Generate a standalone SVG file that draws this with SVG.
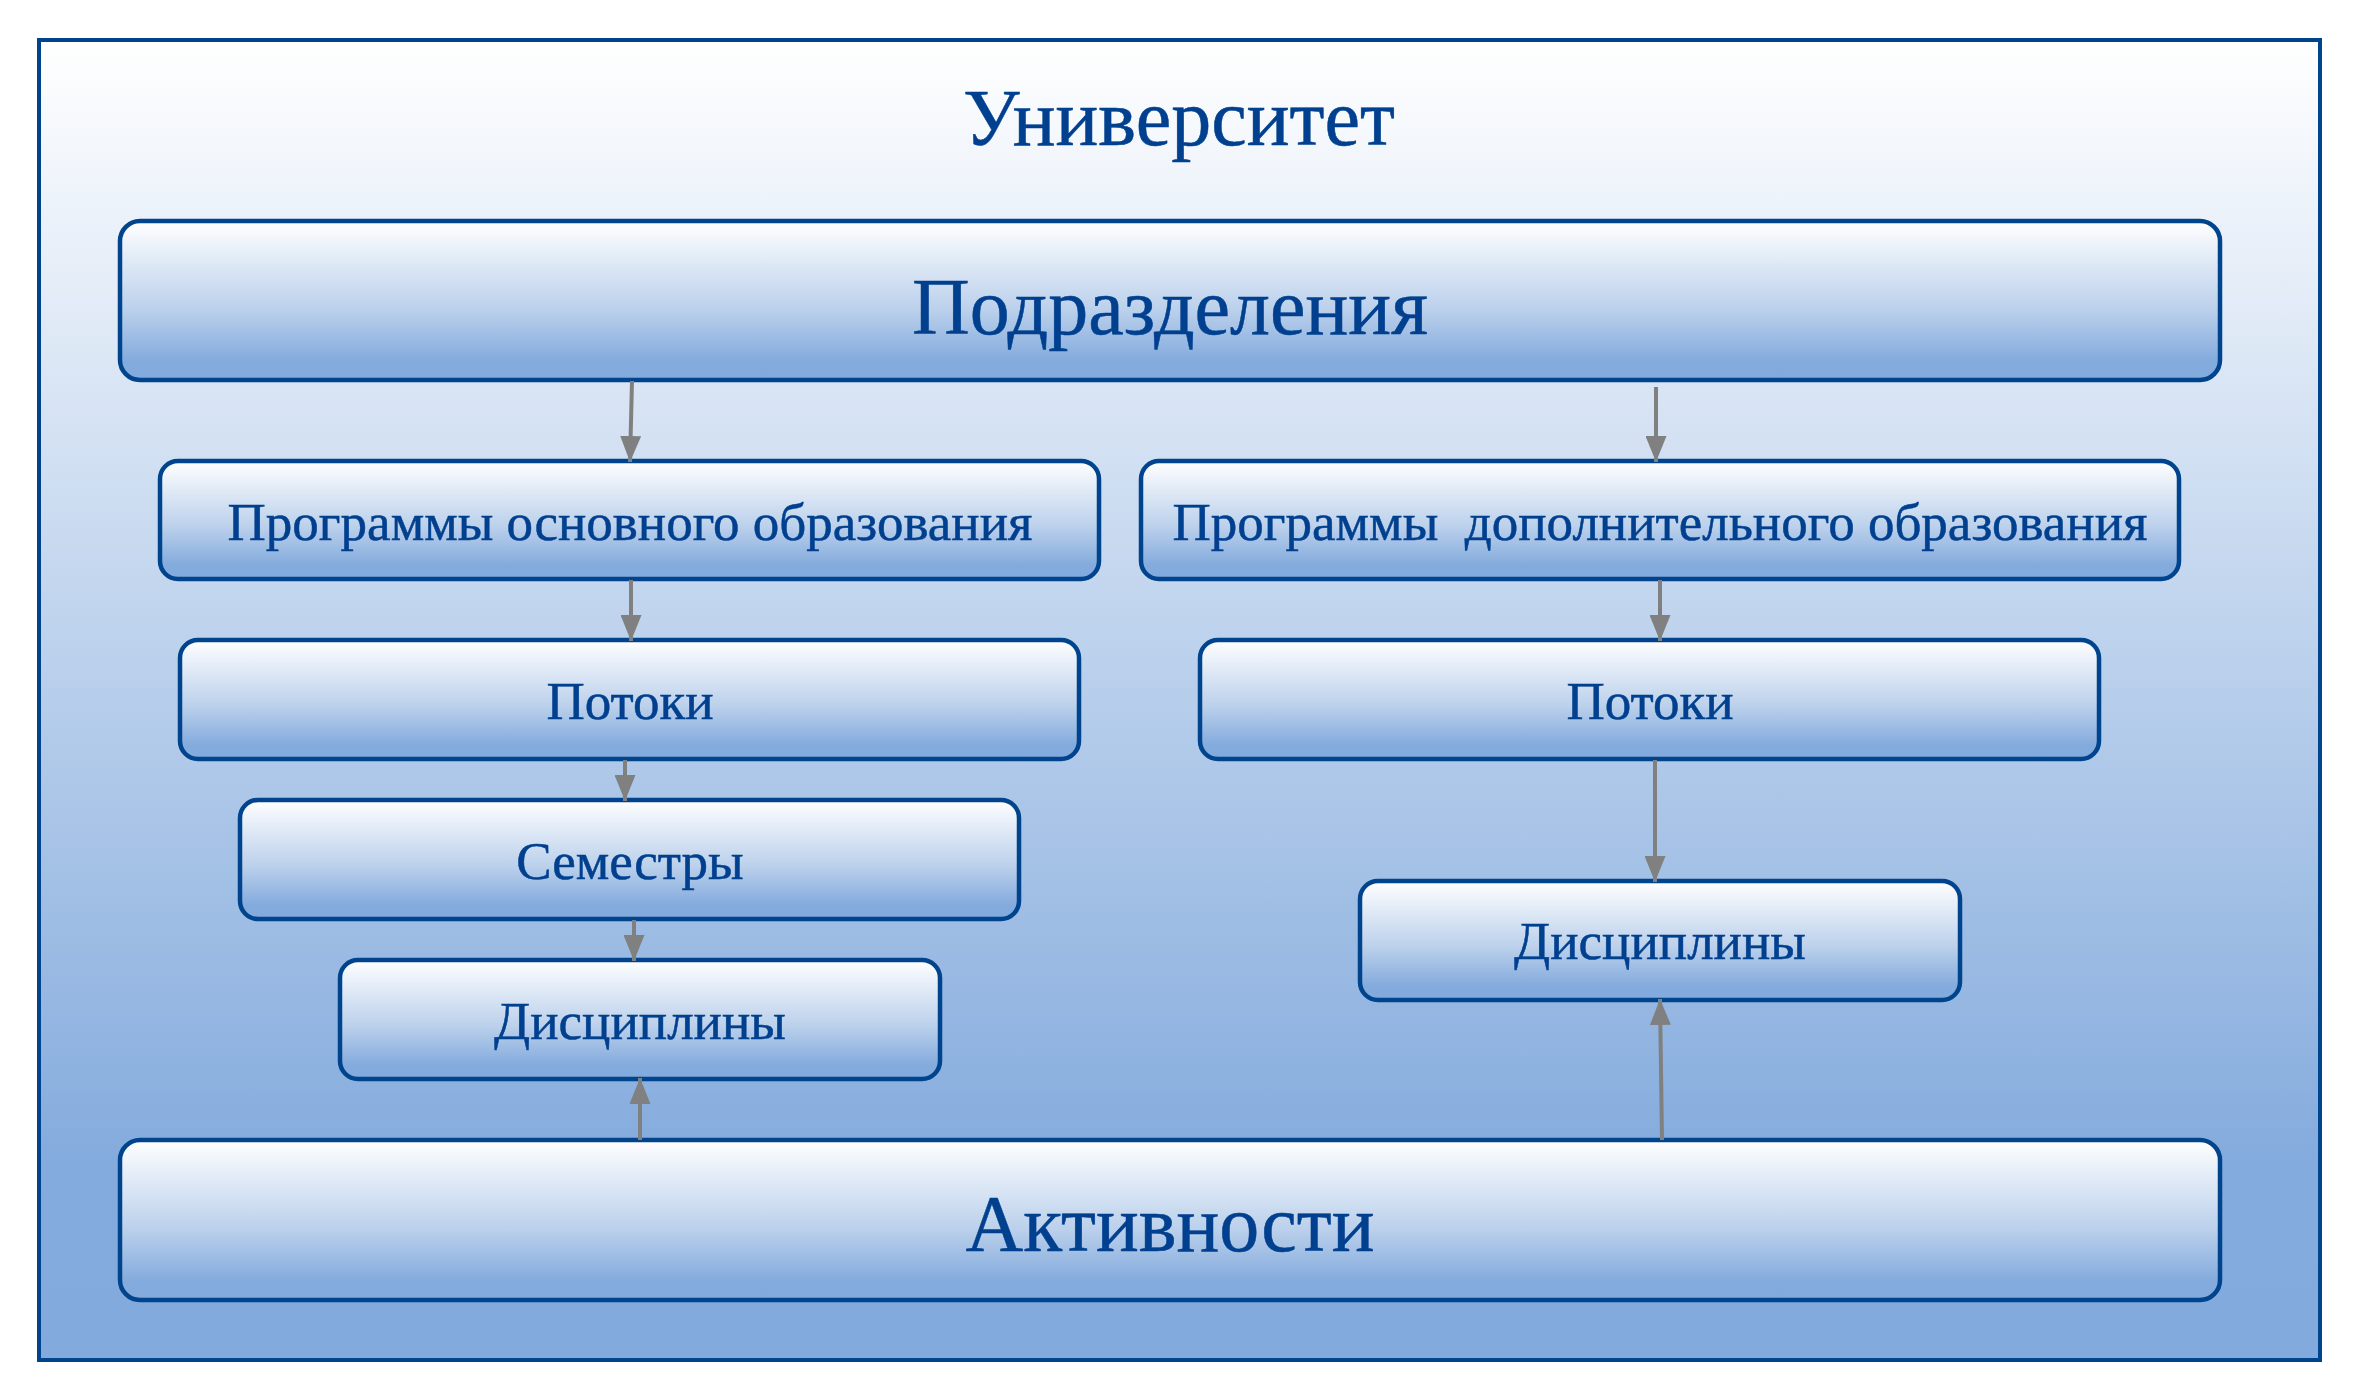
<svg xmlns="http://www.w3.org/2000/svg" width="2361" height="1400" viewBox="0 0 2361 1400">
<defs>
<linearGradient id="bg" x1="0" y1="0" x2="0" y2="1">
<stop offset="0" stop-color="#ffffff"/>
<stop offset="0.85" stop-color="#84abdd"/>
<stop offset="1" stop-color="#82aadc"/>
</linearGradient>
<linearGradient id="box" x1="0" y1="0" x2="0" y2="1">
<stop offset="0" stop-color="#ffffff"/>
<stop offset="0.2" stop-color="#e6eef8"/>
<stop offset="0.55" stop-color="#bcd1ec"/>
<stop offset="0.88" stop-color="#84abdd"/>
<stop offset="1" stop-color="#82aadc"/>
</linearGradient>
<marker id="ah" viewBox="0 0 26 21" refX="26" refY="10.5" markerWidth="26" markerHeight="21" markerUnits="userSpaceOnUse" orient="auto">
<path d="M0,0 L26,10.5 L0,21 Z" fill="#808080"/>
</marker>
<style>
.box{fill:url(#box);stroke:#00448e;stroke-width:4.5}
.t{font-family:"Liberation Serif","Times New Roman",serif;fill:#00408f;stroke:#00408f;stroke-width:0.5;text-anchor:middle}
.big{font-size:80px}
.sm{font-size:53px}
.c{stroke:#808080;stroke-width:4;fill:none;marker-end:url(#ah)}
</style>
</defs>
<g id="universitet">
<rect x="39" y="40" width="2281" height="1320" fill="url(#bg)" stroke="#00448e" stroke-width="4"/>
<text class="t big" x="1179" y="145">Университет</text>
</g>
<g id="podrazdeleniya">
<rect class="box" x="120" y="221" width="2100" height="159" rx="20"/>
<text class="t big" x="1170" y="334">Подразделения</text>
</g>
<g id="prog-osn">
<rect class="box" x="160" y="461" width="939" height="118" rx="18"/>
<text class="t sm" x="630" y="540">Программы основного образования</text>
</g>
<g id="prog-dop">
<rect class="box" x="1141" y="461" width="1038" height="118" rx="18"/>
<text class="t sm" x="1660" y="540" xml:space="preserve">Программы  дополнительного образования</text>
</g>
<g id="potoki-left">
<rect class="box" x="180" y="640" width="899" height="119" rx="18"/>
<text class="t sm" x="630" y="719">Потоки</text>
</g>
<g id="potoki-right">
<rect class="box" x="1200" y="640" width="899" height="119" rx="18"/>
<text class="t sm" x="1650" y="719">Потоки</text>
</g>
<g id="semestry">
<rect class="box" x="240" y="800" width="779" height="119" rx="18"/>
<text class="t sm" x="630" y="879">Семестры</text>
</g>
<g id="discipliny-left">
<rect class="box" x="340" y="960" width="600" height="119" rx="18"/>
<text class="t sm" x="640" y="1039">Дисциплины</text>
</g>
<g id="discipliny-right">
<rect class="box" x="1360" y="881" width="600" height="119" rx="18"/>
<text class="t sm" x="1660" y="959">Дисциплины</text>
</g>
<g id="aktivnosti">
<rect class="box" x="120" y="1140" width="2100" height="160" rx="20"/>
<text class="t big" x="1170" y="1251">Активности</text>
</g>
<g id="connectors">
<line class="c" x1="632" y1="381" x2="630" y2="462"/>
<line class="c" x1="1656" y1="387" x2="1656" y2="462"/>
<line class="c" x1="631" y1="580" x2="631" y2="641"/>
<line class="c" x1="1660" y1="580" x2="1660" y2="641"/>
<line class="c" x1="625" y1="760" x2="625" y2="801"/>
<line class="c" x1="634" y1="920" x2="634" y2="961"/>
<line class="c" x1="1655" y1="760" x2="1655" y2="882"/>
<line class="c" x1="640" y1="1140" x2="640" y2="1078"/>
<line class="c" x1="1662" y1="1140" x2="1660" y2="999"/>
</g>
</svg>
